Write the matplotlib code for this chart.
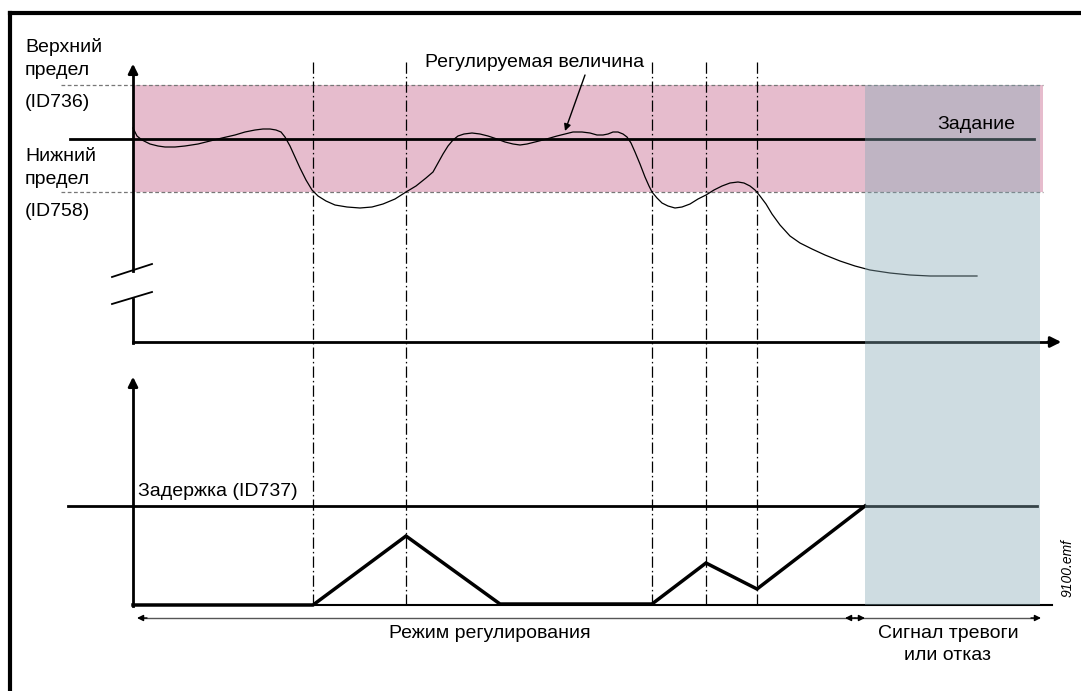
import matplotlib
matplotlib.use("Agg")
import matplotlib.pyplot as plt
from matplotlib.patches import Rectangle

plt.rcParams['font.family'] = ['Liberation Sans', 'DejaVu Sans']

# ---- data (diagram coordinates, pixel-like units) ----
curve_x = [133, 137, 142, 150, 158, 165, 175, 185, 198, 210, 222, 235, 245, 255, 263, 270, 276,
           281, 285, 290, 295, 300, 306, 312, 318, 326, 335, 347, 360, 372, 383, 395, 406, 416,
           426, 433, 438, 443, 448, 453, 458, 464, 472, 480, 488, 497, 505, 513, 520, 527, 535,
           543, 550, 557, 565, 573, 582, 590, 597, 603, 608, 613, 618, 623, 627, 631, 635, 640,
           645, 649, 652, 657, 662, 668, 675, 682, 690, 698, 706, 714, 722, 730, 738, 744, 750,
           755, 760, 766, 772, 780, 790, 800, 812, 825, 840, 855, 870, 890, 910, 930, 955, 977]
curve_y = [128, 136, 140, 144, 146, 147, 147, 146, 144, 141, 138, 135, 132, 130, 129, 129, 130,
           132, 137, 146, 157, 168, 180, 190, 196, 201, 205, 207, 208, 207, 204, 199, 192, 186,
           178, 172, 163, 154, 146, 140, 136, 134, 133, 134, 136, 139, 142, 144, 145, 144, 142,
           140, 138, 136, 134, 132, 132, 133, 135, 135, 134, 132, 132, 134, 137, 143, 152, 164,
           177, 186, 192, 198, 203, 206, 208, 207, 204, 199, 195, 190, 186, 183, 182, 183, 186,
           190, 196, 204, 214, 225, 236, 243, 249, 255, 261, 266, 270, 273, 275, 276, 276, 276]

counter_x = [133, 313, 406, 500, 652, 706, 757, 865]
counter_y = [605, 605, 536, 604, 604, 563, 589, 506]

event_x = [313, 406, 652, 706, 757]

upper_limit_y = 85
lower_limit_y = 192
setpoint_y = 139
delay_y = 506
alarm_x = 865

left_labels = ["Верхний", "предел", "(ID736)", "Нижний", "предел", "(ID758)"]
left_label_y = [47, 70, 102, 156, 179, 211]

W, H = 1081, 691
fig = plt.figure(figsize=(W / 100, H / 100), dpi=100)
ax = fig.add_axes([0, 0, 1, 1])
ax.set_xlim(0, W)
ax.set_ylim(H, 0)
ax.axis('off')

pink = '#e6bccd'
FS = 14

# frame
ax.plot([10, 10], [H + 5, 13], color='black', lw=3, solid_capstyle='projecting')
ax.plot([10, W + 5], [13, 13], color='black', lw=3, solid_capstyle='projecting')

# tolerance band
ax.add_patch(Rectangle((133, upper_limit_y), 1043 - 133, lower_limit_y - upper_limit_y,
                       facecolor=pink, edgecolor='none', zorder=1))
for yy in (upper_limit_y, lower_limit_y):
    ax.plot([61, 1043], [yy, yy], color='#777777', lw=0.9, ls=(0, (3, 2)), zorder=2)

# setpoint
ax.plot([70, 1034], [setpoint_y, setpoint_y], color='black', lw=2, zorder=3)

# upper axes
ax.plot([133, 133], [343, 299], color='black', lw=2, zorder=4)
ax.plot([133, 133], [271, 70], color='black', lw=2, zorder=4)
ax.annotate('', xy=(133, 61), xytext=(133, 75),
            arrowprops=dict(arrowstyle='-|>', color='black', lw=2, mutation_scale=14), zorder=4)
ax.plot([133, 1055], [342, 342], color='black', lw=2, zorder=4)
ax.annotate('', xy=(1064, 342), xytext=(1045, 342),
            arrowprops=dict(arrowstyle='-|>', color='black', lw=2, mutation_scale=16), zorder=4)
# break marks
ax.plot([112, 152], [277, 264], color='black', lw=1.3, zorder=4)
ax.plot([112, 152], [304, 292], color='black', lw=1.3, zorder=4)

# controlled value curve
ax.plot(curve_x, curve_y, color='black', lw=0.9, zorder=5)

# event lines
for ex in event_x:
    ax.plot([ex, ex], [62, 605], color='black', lw=0.9, ls=(0, (9, 2.5, 1.2, 2.5)), zorder=3)

# lower axes
ax.plot([133, 133], [606, 385], color='black', lw=2, zorder=4)
ax.annotate('', xy=(133, 374), xytext=(133, 390),
            arrowprops=dict(arrowstyle='-|>', color='black', lw=2, mutation_scale=14), zorder=4)
ax.plot([133, 1052], [605, 605], color='black', lw=1.5, zorder=4)

# delay threshold
ax.plot([68, 1037], [delay_y, delay_y], color='black', lw=2, zorder=4)

# counter
ax.plot(counter_x, counter_y, color='black', lw=2.5, zorder=5, solid_joinstyle='miter')

# alarm region shade (translucent overlay)
ax.add_patch(Rectangle((alarm_x, upper_limit_y), 1040 - alarm_x, 605 - upper_limit_y,
                       facecolor='#86a9b4', alpha=0.4, edgecolor='none', zorder=6))

# bottom arrows
ax.plot([140, 1035], [618, 618], color='#555555', lw=1, zorder=4)
for tip, tail in ((137, 147), (845, 855), (865, 855), (1041, 1031)):
    ax.annotate('', xy=(tip, 618), xytext=(tail, 618),
                arrowprops=dict(arrowstyle='-|>', color='black', lw=1, mutation_scale=9,
                                shrinkA=0, shrinkB=0), zorder=5)

# texts
for t, yy in zip(left_labels, left_label_y):
    ax.text(25, yy, t, fontsize=FS, ha='left', va='center', zorder=7)
ax.text(425, 62, 'Регулируемая величина', fontsize=FS, ha='left', va='center', zorder=7)
ax.annotate('', xy=(565, 131), xytext=(585, 75),
            arrowprops=dict(arrowstyle='-|>', color='black', lw=1, mutation_scale=10,
                            shrinkA=0, shrinkB=0), zorder=7)
ax.text(937, 124, 'Задание', fontsize=FS, ha='left', va='center', zorder=7)
ax.text(138, 491, 'Задержка (ID737)', fontsize=FS, ha='left', va='center', zorder=7)
ax.text(490, 634, 'Режим регулирования', fontsize=FS, ha='center', va='center', zorder=7)
ax.text(948, 633, 'Сигнал тревоги', fontsize=FS, ha='center', va='center', zorder=7)
ax.text(948, 655, 'или отказ', fontsize=FS, ha='center', va='center', zorder=7)
ax.text(1068, 568, '9100.emf', fontsize=10, style='italic', rotation=90,
        ha='center', va='center', zorder=7)

fig.savefig('out.png', dpi=100)
